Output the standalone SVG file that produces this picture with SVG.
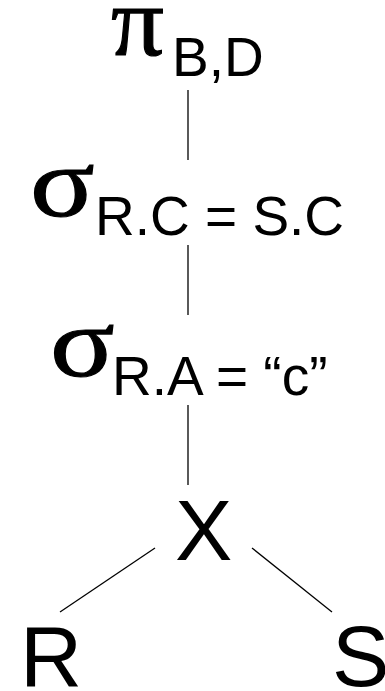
<svg xmlns="http://www.w3.org/2000/svg" width="385" height="691" viewBox="0 0 385 691">
<style>
.g{font-family:"Liberation Serif","DejaVu Serif",serif;font-size:100px;fill:#000;stroke:#000;stroke-width:1.1}
.s{font-family:"Liberation Sans",Arial,sans-serif;font-size:55px;fill:#000}
.b{font-family:"Liberation Sans",Arial,sans-serif;font-size:86px;fill:#000}
.e{stroke:#000;stroke-width:1.3;fill:none}
</style>
<rect width="385" height="691" fill="#fff"/>
<g id="edges">
<line class="e" x1="188" y1="90" x2="188" y2="160"/>
<line class="e" x1="188" y1="245" x2="188" y2="315"/>
<line class="e" x1="188" y1="405" x2="188" y2="485"/>
<line class="e" x1="155" y1="548" x2="60" y2="612"/>
<line class="e" x1="252" y1="548" x2="332" y2="612"/>
</g>
<g id="project"><text class="g" transform="translate(111,55) scale(1.05,1)">π</text><text class="s" x="172" y="76">B,D</text></g>
<g id="select1"><text class="g" transform="translate(30,216) scale(1.2,1)">σ</text><text class="s" x="95" y="235">R.C = S.C</text></g>
<g id="select2"><text class="g" transform="translate(50,376) scale(1.2,1)">σ</text><text class="s" x="112" y="395">R.A = “c”</text></g>
<g id="product"><text class="b" x="175" y="560">X</text></g>
<g id="R"><text class="b" x="20" y="686">R</text></g>
<g id="S"><text class="b" x="332" y="686">S</text></g>
</svg>
